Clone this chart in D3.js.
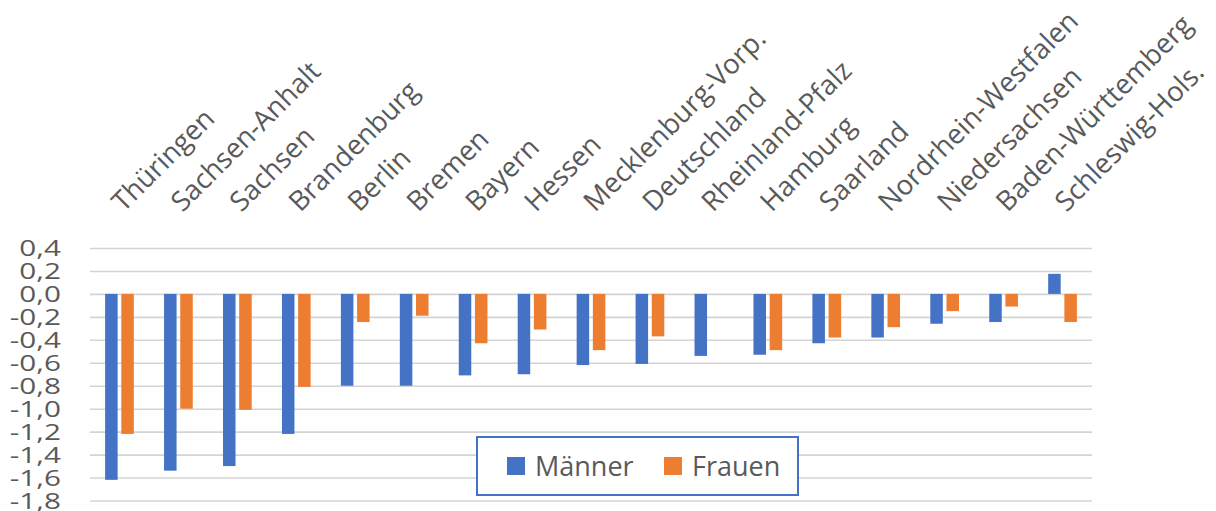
<!DOCTYPE html>
<html>
<head>
<meta charset="utf-8">
<script src="https://cdn.jsdelivr.net/npm/d3@7"></script>
<style>
  body { margin: 0; background: #fff; }
  #chart { width: 1216px; height: 511px; }
  text { font-family: "Open Sans", sans-serif; fill: #595959; }
</style>
</head>
<body>
<div id="chart"></div>
<script>
// data
const states = ['Thüringen', 'Sachsen-Anhalt', 'Sachsen', 'Brandenburg', 'Berlin', 'Bremen', 'Bayern', 'Hessen',
  'Mecklenburg-Vorp.', 'Deutschland', 'Rheinland-Pfalz', 'Hamburg', 'Saarland', 'Nordrhein-Westfalen',
  'Niedersachsen', 'Baden-Württemberg', 'Schleswig-Hols.'];
const maenner = [-1.62, -1.54, -1.50, -1.22, -0.80, -0.80, -0.71, -0.70, -0.62, -0.61, -0.54, -0.53, -0.43, -0.38, -0.26, -0.245, 0.175];
const frauen  = [-1.22, -1.00, -1.01, -0.81, -0.245, -0.19, -0.43, -0.31, -0.49, -0.37, 0.0, -0.49, -0.38, -0.29, -0.15, -0.11, -0.245];
const seriesNames = ['Männer', 'Frauen'];
const seriesColors = ['#4472C4', '#ED7D31'];
const yTicks = [0.4, 0.2, 0.0, -0.2, -0.4, -0.6, -0.8, -1.0, -1.2, -1.4, -1.6, -1.8];

// chart static params
const W = 1216, H = 511;
const margin = {top: 248, right: 124, bottom: 10.5, left: 90},
    width = W - margin.left - margin.right,
    height = H - margin.top - margin.bottom;

const rows = states.map((s, i) => ({state: s, values: [maenner[i], frauen[i]]}));

// scales
const x0 = d3.scaleBand()
  .domain(states)
  .range([0, width])
  .paddingInner(0.513)
  .paddingOuter(0.2565);

const x1 = d3.scaleBand()
  .domain([0, 1])
  .range([0, x0.bandwidth()])
  .paddingInner(0.228);

const y = d3.scaleLinear()
  .domain([0.4, -1.8])
  .range([0, height]);

const de = d3.formatLocale({decimal: ',', thousands: '.', grouping: [3], currency: ['', '€'], minus: '-'});
const fmt = de.format('.1f');

const svg = d3.select('#chart')
  .append('svg')
    .attr('width', W)
    .attr('height', H)
  .append('g')
    .attr('transform', `translate(${margin.left},${margin.top})`);

// grid
const grid = svg.append('g')
  .call(d3.axisLeft(y).tickValues(yTicks).tickSize(-width).tickFormat(''));
grid.select('.domain').remove();
grid.selectAll('line').attr('stroke', '#d4d4d4').attr('stroke-width', 1.6);

// y labels (source picture has them stretched wide)
const yAxis = svg.append('g')
  .attr('transform', 'translate(-29,0)')
  .call(d3.axisLeft(y).tickValues(yTicks).tickSize(0).tickFormat(fmt));
yAxis.select('.domain').remove();
yAxis.selectAll('text')
  .attr('x', 0)
  .attr('dy', '0.36em')
  .attr('transform', 'scale(1.35,1)')
  .style('font-size', '22px')
  .attr('fill', '#595959');

// bars
const groups = svg.selectAll('.grp')
  .data(rows)
  .join('g')
    .attr('class', 'grp')
    .attr('transform', d => `translate(${x0(d.state)},0)`);

groups.selectAll('rect')
  .data(d => d.values.map((v, k) => ({k, v})))
  .join('rect')
    .attr('x', d => x1(d.k))
    .attr('width', x1.bandwidth())
    .attr('y', d => y(Math.max(0, d.v)))
    .attr('height', d => Math.abs(y(d.v) - y(0)))
    .attr('fill', d => seriesColors[d.k]);

// category labels, rotated
svg.append('g')
  .selectAll('text')
  .data(states)
  .join('text')
    .attr('transform', d => `translate(${x0(d) + x0.bandwidth() / 2 + 4},${-35}) rotate(-45)`)
    .attr('text-anchor', 'start')
    .style('font-size', '27.5px')
    .text(d => d);

// legend
const legend = svg.append('g')
  .attr('transform', `translate(${477 - margin.left},${437 - margin.top})`);
legend.append('rect')
  .attr('width', 321)
  .attr('height', 58)
  .attr('fill', '#fff')
  .attr('stroke', '#4472C4')
  .attr('stroke-width', 2);

const legendX = [30, 187];
const items = legend.selectAll('.item')
  .data(seriesNames)
  .join('g')
    .attr('class', 'item')
    .attr('transform', (d, i) => `translate(${legendX[i]},20)`);
items.append('rect')
  .attr('width', 18)
  .attr('height', 18)
  .attr('fill', (d, i) => seriesColors[i]);
items.append('text')
  .attr('x', 28)
  .attr('y', 9)
  .attr('dy', '0.36em')
  .style('font-size', '27px')
  .text(d => d);
</script>
</body>
</html>
